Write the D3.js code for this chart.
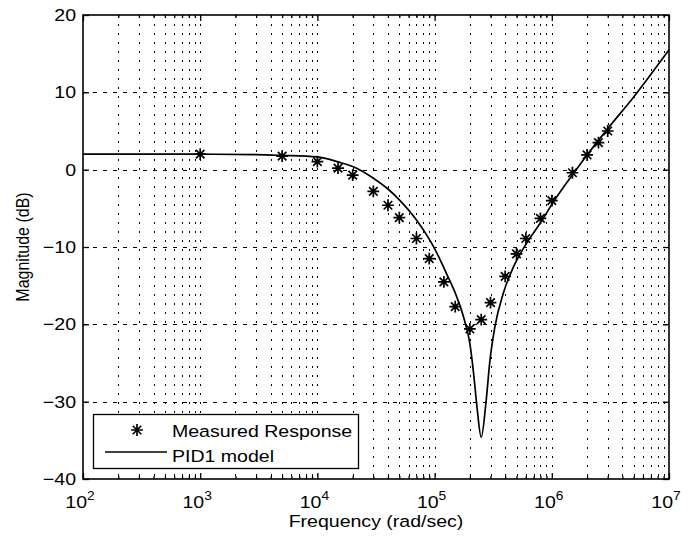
<!DOCTYPE html>
<html>
<head>
<meta charset="utf-8">
<script src="https://cdn.jsdelivr.net/npm/d3@7"></script>
<style>
    body { margin: 0; background: #fff; }
    text { font-family: "Liberation Sans", Arial, Helvetica, sans-serif; fill: #000; }
</style>
</head>
<body>
<div id="div-chart"></div>
<script>
/**
 * Data.
 */
var measFreq = [1e3, 5e3, 1e4, 1.5e4, 2e4, 3e4, 4e4, 5e4, 7e4, 9e4, 1.2e5, 1.5e5,
    2e5, 2.5e5, 3e5, 4e5, 5e5, 6e5, 8e5, 1e6, 1.5e6, 2e6, 2.5e6, 3e6];
var measDb = [2.0, 1.75, 1.05, 0.2, -0.7, -2.8, -4.6, -6.2, -8.9, -11.5, -14.5, -17.7,
    -20.6, -19.4, -17.2, -13.8, -10.9, -8.9, -6.3, -4.0, -0.4, 1.9, 3.5, 5.0];

var modelFreq = [1e2, 1e3, 3e3, 5e3, 1e4, 1.5e4, 2e4, 3e4, 4e4, 5e4, 7e4, 1e5, 1.26e5,
    1.55e5, 1.8e5, 2e5, 2.15e5, 2.3e5, 2.5e5, 2.74e5, 2.97e5, 3.27e5, 3.85e5, 4.7e5,
    6.1e5, 7.9e5, 1.03e6, 1.53e6, 2e6, 3e6, 5e6, 1e7];
var modelDb = [2.0, 2.0, 1.95, 1.85, 1.65, 1.0, 0.4, -1.1, -2.5, -3.9, -6.5, -10.2, -13.4,
    -16.5, -19.5, -22.5, -26.3, -30.7, -34.6, -30.2, -24.6, -20.3, -16.0, -12.6,
    -9.5, -7.0, -4.2, -0.5, 1.9, 5.3, 9.4, 15.5];

var xDecades = [2, 3, 4, 5, 6, 7];
var yTicks = [-40, -30, -20, -10, 0, 10, 20];
var legendLabels = ["Measured Response", "PID1 model"];

var width = 700;
var height = 537;
var margin = { top: 15, right: 31, bottom: 58, left: 83 };
var stretch = 1.15; // glyphs in the figure are a bit wide

var x = d3.scaleLog()
    .domain([1e2, 1e7])
    .range([margin.left, width - margin.right]);

var y = d3.scaleLinear()
    .domain([-40, 20])
    .range([height - margin.bottom, margin.top]);

var minorX = [];
xDecades.slice(0, -1).forEach(function (e) {
    for (var k = 2; k <= 9; k++) minorX.push(k * Math.pow(10, e));
});
var majorX = xDecades.map(e => Math.pow(10, e));

// matlab style '*' marker: a plus and a cross on top of each other
var matlabStar = {
    draw: function (context, size) {
        var r = Math.sqrt(size) / 2;
        var d = r * 0.72;
        context.moveTo(-r, 0); context.lineTo(r, 0);
        context.moveTo(0, -r); context.lineTo(0, r);
        context.moveTo(-d, -d); context.lineTo(d, d);
        context.moveTo(-d, d); context.lineTo(d, -d);
    }
};

var svg = d3.select("#div-chart").append("svg")
    .attr("width", width)
    .attr("height", height);

svg.append("rect").attr("width", width).attr("height", height).attr("fill", "#fff");

// grid
var grid = svg.append("g").attr("class", "grid")
    .attr("stroke", "#000")
    .attr("stroke-width", 1)
    .attr("shape-rendering", "crispEdges");

grid.selectAll("line.v")
    .data(minorX.concat(majorX.slice(1, -1)))
    .enter().append("line")
    .attr("class", "v")
    .attr("x1", d => Math.round(x(d)) + 0.5)
    .attr("x2", d => Math.round(x(d)) + 0.5)
    .attr("y1", y(20))
    .attr("y2", y(-40))
    .attr("stroke-width", 1.5)
    .attr("stroke-dasharray", "2,7");

grid.selectAll("line.h")
    .data(yTicks.slice(1, -1))
    .enter().append("line")
    .attr("class", "h")
    .attr("x1", x(1e2))
    .attr("x2", x(1e7))
    .attr("y1", d => Math.round(y(d)) + 0.5)
    .attr("y2", d => Math.round(y(d)) + 0.5)
    .attr("stroke-width", 1.5)
    .attr("stroke-dasharray", "4,6");

// axes, ticks pointing inward
function styleAxis(g) {
    g.select(".domain").remove();
    g.selectAll(".tick line").attr("stroke", "#000").attr("stroke-width", 1.3);
}

svg.append("g")
    .attr("transform", `translate(0,${y(-40)})`)
    .call(d3.axisBottom(x).tickValues(majorX).tickSize(-6).tickFormat(""))
    .call(styleAxis);
svg.append("g")
    .attr("transform", `translate(0,${y(-40)})`)
    .call(d3.axisBottom(x).tickValues(minorX).tickSize(-3).tickFormat(""))
    .call(styleAxis);
svg.append("g")
    .attr("transform", `translate(0,${y(20)})`)
    .call(d3.axisTop(x).tickValues(majorX).tickSize(-6).tickFormat(""))
    .call(styleAxis);
svg.append("g")
    .attr("transform", `translate(0,${y(20)})`)
    .call(d3.axisTop(x).tickValues(minorX).tickSize(-3).tickFormat(""))
    .call(styleAxis);
svg.append("g")
    .attr("transform", `translate(${x(1e2)},0)`)
    .call(d3.axisLeft(y).tickValues(yTicks).tickSize(-6).tickFormat(""))
    .call(styleAxis);
svg.append("g")
    .attr("transform", `translate(${x(1e7)},0)`)
    .call(d3.axisRight(y).tickValues(yTicks).tickSize(-6).tickFormat(""))
    .call(styleAxis);

svg.append("rect")
    .attr("x", x(1e2))
    .attr("y", y(20))
    .attr("width", x(1e7) - x(1e2))
    .attr("height", y(-40) - y(20))
    .attr("fill", "none")
    .attr("stroke", "#000")
    .attr("stroke-width", 1.6);

// tick labels
svg.append("g").selectAll("text")
    .data(yTicks)
    .enter().append("text")
    .attr("transform", d => `translate(${x(1e2) - 7},${y(d) + 6}) scale(${stretch},1)`)
    .attr("text-anchor", "end")
    .style("font-size", "17px")
    .text(d => d < 0 ? "\u2212" + Math.abs(d) : d);

var xl = svg.append("g").selectAll("text")
    .data(xDecades)
    .enter().append("text")
    .attr("transform", d => `translate(${x(Math.pow(10, d)) - 3},${y(-40) + 29}) scale(${stretch},1)`)
    .attr("text-anchor", "middle")
    .style("font-size", "17px");
xl.append("tspan").text("10");
xl.append("tspan")
    .attr("dy", "-8")
    .style("font-size", "12px")
    .text(d => d);

// axis titles
svg.append("text")
    .attr("transform", `translate(${(x(1e2) + x(1e7)) / 2},${height - 10}) scale(${stretch},1)`)
    .attr("text-anchor", "middle")
    .style("font-size", "17px")
    .text("Frequency (rad/sec)");

svg.append("text")
    .attr("transform", `translate(29,${(y(20) + y(-40)) / 2}) scale(${stretch},1) rotate(-90)`)
    .attr("text-anchor", "middle")
    .style("font-size", "16px")
    .text("Magnitude (dB)");

// model curve
var model = modelFreq.map((f, i) => ({ f: f, db: modelDb[i] }));
var line = d3.line()
    .x(d => x(d.f))
    .y(d => y(d.db))
    .curve(d3.curveMonotoneX);

svg.append("path")
    .datum(model)
    .attr("d", line)
    .attr("fill", "none")
    .attr("stroke", "#000")
    .attr("stroke-width", 1.7);

// measured points
var meas = measFreq.map((f, i) => ({ f: f, db: measDb[i] }));
var star = d3.symbol().type(matlabStar).size(140);

svg.append("g").selectAll("path")
    .data(meas)
    .enter().append("path")
    .attr("transform", d => `translate(${x(d.f)},${y(d.db)})`)
    .attr("d", star)
    .attr("fill", "none")
    .attr("stroke", "#000")
    .attr("stroke-width", 1.7);

// legend
var legend = svg.append("g").attr("class", "legend");
legend.append("rect")
    .attr("x", 93.5)
    .attr("y", 414.5)
    .attr("width", 265)
    .attr("height", 54)
    .attr("fill", "#fff")
    .attr("stroke", "#000")
    .attr("stroke-width", 1.3);
legend.append("path")
    .attr("transform", "translate(137,430)")
    .attr("d", star)
    .attr("fill", "none")
    .attr("stroke", "#000")
    .attr("stroke-width", 1.7);
legend.append("line")
    .attr("x1", 105).attr("x2", 167)
    .attr("y1", 452).attr("y2", 452)
    .attr("stroke", "#000")
    .attr("stroke-width", 1.7);
legend.selectAll("text")
    .data(legendLabels)
    .enter().append("text")
    .attr("transform", (d, i) => `translate(172,${437 + i * 25}) scale(${stretch},1)`)
    .style("font-size", "17px")
    .text(d => d);
</script>
</body>
</html>
